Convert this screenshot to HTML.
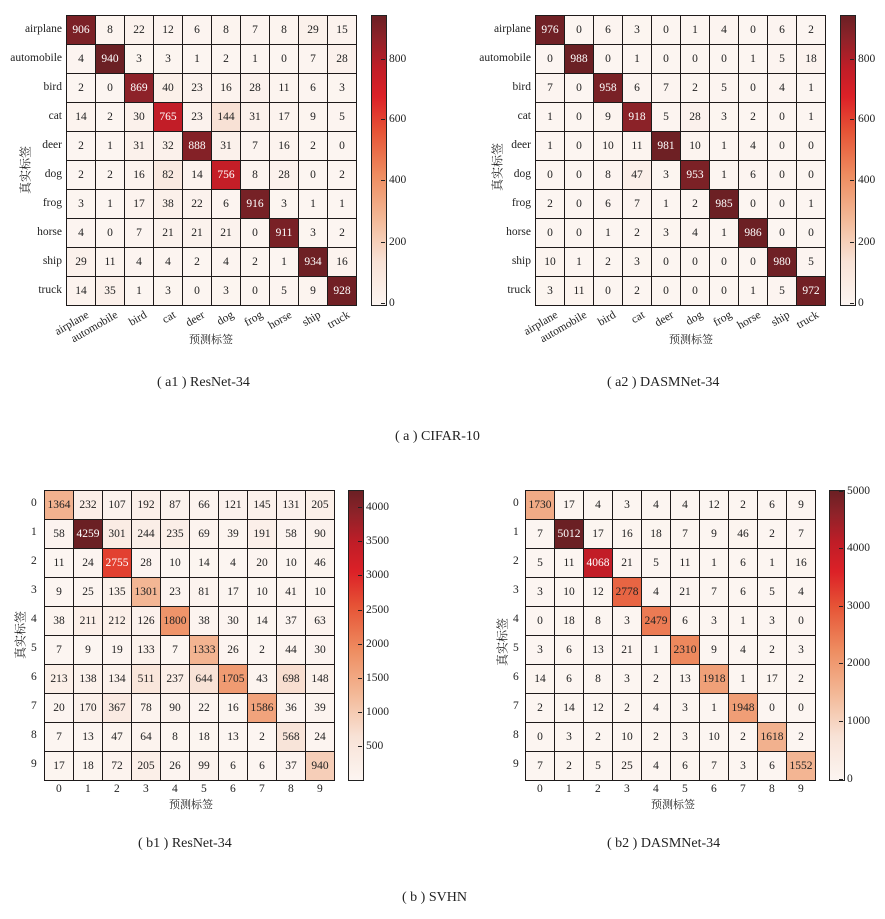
<!DOCTYPE html>
<html><head><meta charset="utf-8">
<style>
body{margin:0;width:885px;height:919px;background:#fff;position:relative;overflow:hidden;font-family:"Liberation Serif","Noto Serif CJK SC",serif;color:#222}
.m{position:absolute;width:289px;height:289px;background:#1e1a1a;padding:1px;display:grid;grid-template-columns:repeat(10,28px);grid-template-rows:repeat(10,28px);gap:1px}
.m i{font-style:normal;display:flex;align-items:center;justify-content:center;font-size:11.5px;background:#fcf5f1;color:#222}
.a{position:absolute;font-size:11.5px;white-space:nowrap}
.yl{position:absolute;font-size:11.5px;text-align:right;width:70px}
.cb{position:absolute;width:14px;height:289px;border:1px solid #222;background:linear-gradient(to top,#fcf5f1 0%,#f8e2d6 15%,#f3b896 30%,#ee8c60 45%,#e65436 60%,#dc2127 72%,#c01d27 82%,#8f2229 92%,#6b2024 100%)}
.t{position:absolute;font-size:11.5px;line-height:12px}
.t:before{content:"";position:absolute;left:-8px;top:6px;width:4px;height:1px;background:#222}
.rot{position:absolute;font-size:11.5px;transform-origin:100% 0;transform:rotate(-30deg);text-align:right;width:80px}
.vl{position:absolute;font-size:12px;white-space:nowrap;transform:translate(-50%,-50%) rotate(-90deg);font-family:"Noto Serif CJK SC",serif}
.xl{position:absolute;font-size:11px;font-family:"Noto Serif CJK SC",serif;transform:translateX(-50%)}
.cap{position:absolute;font-size:14px;white-space:nowrap}
</style></head><body>

<!-- a1 -->
<div class="m" id="m1" style="left:66px;top:15px">
<i>906</i><i>8</i><i>22</i><i>12</i><i>6</i><i>8</i><i>7</i><i>8</i><i>29</i><i>15</i>
<i>4</i><i>940</i><i>3</i><i>3</i><i>1</i><i>2</i><i>1</i><i>0</i><i>7</i><i>28</i>
<i>2</i><i>0</i><i>869</i><i>40</i><i>23</i><i>16</i><i>28</i><i>11</i><i>6</i><i>3</i>
<i>14</i><i>2</i><i>30</i><i>765</i><i>23</i><i>144</i><i>31</i><i>17</i><i>9</i><i>5</i>
<i>2</i><i>1</i><i>31</i><i>32</i><i>888</i><i>31</i><i>7</i><i>16</i><i>2</i><i>0</i>
<i>2</i><i>2</i><i>16</i><i>82</i><i>14</i><i>756</i><i>8</i><i>28</i><i>0</i><i>2</i>
<i>3</i><i>1</i><i>17</i><i>38</i><i>22</i><i>6</i><i>916</i><i>3</i><i>1</i><i>1</i>
<i>4</i><i>0</i><i>7</i><i>21</i><i>21</i><i>21</i><i>0</i><i>911</i><i>3</i><i>2</i>
<i>29</i><i>11</i><i>4</i><i>4</i><i>2</i><i>4</i><i>2</i><i>1</i><i>934</i><i>16</i>
<i>14</i><i>35</i><i>1</i><i>3</i><i>0</i><i>3</i><i>0</i><i>5</i><i>9</i><i>928</i>
</div>
<!-- a2 -->
<div class="m" id="m2" style="left:535px;top:15px">
<i>976</i><i>0</i><i>6</i><i>3</i><i>0</i><i>1</i><i>4</i><i>0</i><i>6</i><i>2</i>
<i>0</i><i>988</i><i>0</i><i>1</i><i>0</i><i>0</i><i>0</i><i>1</i><i>5</i><i>18</i>
<i>7</i><i>0</i><i>958</i><i>6</i><i>7</i><i>2</i><i>5</i><i>0</i><i>4</i><i>1</i>
<i>1</i><i>0</i><i>9</i><i>918</i><i>5</i><i>28</i><i>3</i><i>2</i><i>0</i><i>1</i>
<i>1</i><i>0</i><i>10</i><i>11</i><i>981</i><i>10</i><i>1</i><i>4</i><i>0</i><i>0</i>
<i>0</i><i>0</i><i>8</i><i>47</i><i>3</i><i>953</i><i>1</i><i>6</i><i>0</i><i>0</i>
<i>2</i><i>0</i><i>6</i><i>7</i><i>1</i><i>2</i><i>985</i><i>0</i><i>0</i><i>1</i>
<i>0</i><i>0</i><i>1</i><i>2</i><i>3</i><i>4</i><i>1</i><i>986</i><i>0</i><i>0</i>
<i>10</i><i>1</i><i>2</i><i>3</i><i>0</i><i>0</i><i>0</i><i>0</i><i>980</i><i>5</i>
<i>3</i><i>11</i><i>0</i><i>2</i><i>0</i><i>0</i><i>0</i><i>1</i><i>5</i><i>972</i>
</div>
<!-- b1 -->
<div class="m" id="m3" style="left:44px;top:490px">
<i>1364</i><i>232</i><i>107</i><i>192</i><i>87</i><i>66</i><i>121</i><i>145</i><i>131</i><i>205</i>
<i>58</i><i>4259</i><i>301</i><i>244</i><i>235</i><i>69</i><i>39</i><i>191</i><i>58</i><i>90</i>
<i>11</i><i>24</i><i>2755</i><i>28</i><i>10</i><i>14</i><i>4</i><i>20</i><i>10</i><i>46</i>
<i>9</i><i>25</i><i>135</i><i>1301</i><i>23</i><i>81</i><i>17</i><i>10</i><i>41</i><i>10</i>
<i>38</i><i>211</i><i>212</i><i>126</i><i>1800</i><i>38</i><i>30</i><i>14</i><i>37</i><i>63</i>
<i>7</i><i>9</i><i>19</i><i>133</i><i>7</i><i>1333</i><i>26</i><i>2</i><i>44</i><i>30</i>
<i>213</i><i>138</i><i>134</i><i>511</i><i>237</i><i>644</i><i>1705</i><i>43</i><i>698</i><i>148</i>
<i>20</i><i>170</i><i>367</i><i>78</i><i>90</i><i>22</i><i>16</i><i>1586</i><i>36</i><i>39</i>
<i>7</i><i>13</i><i>47</i><i>64</i><i>8</i><i>18</i><i>13</i><i>2</i><i>568</i><i>24</i>
<i>17</i><i>18</i><i>72</i><i>205</i><i>26</i><i>99</i><i>6</i><i>6</i><i>37</i><i>940</i>
</div>
<!-- b2 -->
<div class="m" id="m4" style="left:525px;top:490px">
<i>1730</i><i>17</i><i>4</i><i>3</i><i>4</i><i>4</i><i>12</i><i>2</i><i>6</i><i>9</i>
<i>7</i><i>5012</i><i>17</i><i>16</i><i>18</i><i>7</i><i>9</i><i>46</i><i>2</i><i>7</i>
<i>5</i><i>11</i><i>4068</i><i>21</i><i>5</i><i>11</i><i>1</i><i>6</i><i>1</i><i>16</i>
<i>3</i><i>10</i><i>12</i><i>2778</i><i>4</i><i>21</i><i>7</i><i>6</i><i>5</i><i>4</i>
<i>0</i><i>18</i><i>8</i><i>3</i><i>2479</i><i>6</i><i>3</i><i>1</i><i>3</i><i>0</i>
<i>3</i><i>6</i><i>13</i><i>21</i><i>1</i><i>2310</i><i>9</i><i>4</i><i>2</i><i>3</i>
<i>14</i><i>6</i><i>8</i><i>3</i><i>2</i><i>13</i><i>1918</i><i>1</i><i>17</i><i>2</i>
<i>2</i><i>14</i><i>12</i><i>2</i><i>4</i><i>3</i><i>1</i><i>1948</i><i>0</i><i>0</i>
<i>0</i><i>3</i><i>2</i><i>10</i><i>2</i><i>3</i><i>10</i><i>2</i><i>1618</i><i>2</i>
<i>7</i><i>2</i><i>5</i><i>25</i><i>4</i><i>6</i><i>7</i><i>3</i><i>6</i><i>1552</i>
</div>

<!-- a1 y labels -->
<div class="yl" style="left:-8px;top:23px">airplane</div>
<div class="yl" style="left:-8px;top:52px">automobile</div>
<div class="yl" style="left:-8px;top:81px">bird</div>
<div class="yl" style="left:-8px;top:110px">cat</div>
<div class="yl" style="left:-8px;top:139px">deer</div>
<div class="yl" style="left:-8px;top:168px">dog</div>
<div class="yl" style="left:-8px;top:197px">frog</div>
<div class="yl" style="left:-8px;top:226px">horse</div>
<div class="yl" style="left:-8px;top:255px">ship</div>
<div class="yl" style="left:-8px;top:284px">truck</div>
<!-- a2 y labels -->
<div class="yl" style="left:461px;top:23px">airplane</div>
<div class="yl" style="left:461px;top:52px">automobile</div>
<div class="yl" style="left:461px;top:81px">bird</div>
<div class="yl" style="left:461px;top:110px">cat</div>
<div class="yl" style="left:461px;top:139px">deer</div>
<div class="yl" style="left:461px;top:168px">dog</div>
<div class="yl" style="left:461px;top:197px">frog</div>
<div class="yl" style="left:461px;top:226px">horse</div>
<div class="yl" style="left:461px;top:255px">ship</div>
<div class="yl" style="left:461px;top:284px">truck</div>

<!-- a1 x labels -->
<div class="rot" style="left:5px;top:309px">airplane</div>
<div class="rot" style="left:34px;top:309px">automobile</div>
<div class="rot" style="left:63px;top:309px">bird</div>
<div class="rot" style="left:92px;top:309px">cat</div>
<div class="rot" style="left:121px;top:309px">deer</div>
<div class="rot" style="left:150px;top:309px">dog</div>
<div class="rot" style="left:179px;top:309px">frog</div>
<div class="rot" style="left:208px;top:309px">horse</div>
<div class="rot" style="left:237px;top:309px">ship</div>
<div class="rot" style="left:266px;top:309px">truck</div>
<!-- a2 x labels -->
<div class="rot" style="left:474px;top:309px">airplane</div>
<div class="rot" style="left:503px;top:309px">automobile</div>
<div class="rot" style="left:532px;top:309px">bird</div>
<div class="rot" style="left:561px;top:309px">cat</div>
<div class="rot" style="left:590px;top:309px">deer</div>
<div class="rot" style="left:619px;top:309px">dog</div>
<div class="rot" style="left:648px;top:309px">frog</div>
<div class="rot" style="left:677px;top:309px">horse</div>
<div class="rot" style="left:706px;top:309px">ship</div>
<div class="rot" style="left:735px;top:309px">truck</div>

<!-- b1 y/x ticks -->
<div class="a" style="left:31px;top:497px">0</div><div class="a" style="left:31px;top:526px">1</div><div class="a" style="left:31px;top:555px">2</div><div class="a" style="left:31px;top:584px">3</div><div class="a" style="left:31px;top:613px">4</div><div class="a" style="left:31px;top:642px">5</div><div class="a" style="left:31px;top:671px">6</div><div class="a" style="left:31px;top:700px">7</div><div class="a" style="left:31px;top:729px">8</div><div class="a" style="left:31px;top:758px">9</div>
<div class="a" style="left:56px;top:783px">0</div><div class="a" style="left:85px;top:783px">1</div><div class="a" style="left:114px;top:783px">2</div><div class="a" style="left:143px;top:783px">3</div><div class="a" style="left:172px;top:783px">4</div><div class="a" style="left:201px;top:783px">5</div><div class="a" style="left:230px;top:783px">6</div><div class="a" style="left:259px;top:783px">7</div><div class="a" style="left:288px;top:783px">8</div><div class="a" style="left:317px;top:783px">9</div>
<!-- b2 ticks -->
<div class="a" style="left:513px;top:497px">0</div><div class="a" style="left:513px;top:526px">1</div><div class="a" style="left:513px;top:555px">2</div><div class="a" style="left:513px;top:584px">3</div><div class="a" style="left:513px;top:613px">4</div><div class="a" style="left:513px;top:642px">5</div><div class="a" style="left:513px;top:671px">6</div><div class="a" style="left:513px;top:700px">7</div><div class="a" style="left:513px;top:729px">8</div><div class="a" style="left:513px;top:758px">9</div>
<div class="a" style="left:537px;top:783px">0</div><div class="a" style="left:566px;top:783px">1</div><div class="a" style="left:595px;top:783px">2</div><div class="a" style="left:624px;top:783px">3</div><div class="a" style="left:653px;top:783px">4</div><div class="a" style="left:682px;top:783px">5</div><div class="a" style="left:711px;top:783px">6</div><div class="a" style="left:740px;top:783px">7</div><div class="a" style="left:769px;top:783px">8</div><div class="a" style="left:798px;top:783px">9</div>

<!-- axis titles -->
<div class="vl" style="left:25px;top:170px">真实标签</div>
<div class="vl" style="left:497px;top:167px">真实标签</div>
<div class="vl" style="left:20px;top:635px">真实标签</div>
<div class="vl" style="left:502px;top:642px">真实标签</div>
<div class="xl" style="left:211px;top:331px">预测标签</div>
<div class="xl" style="left:691px;top:331px">预测标签</div>
<div class="xl" style="left:191px;top:796px">预测标签</div>
<div class="xl" style="left:673px;top:796px">预测标签</div>

<!-- colorbars -->
<div class="cb" style="left:371px;top:15px"></div>
<div class="t" style="left:389px;top:297px">0</div><div class="t" style="left:389px;top:236px">200</div><div class="t" style="left:389px;top:174px">400</div><div class="t" style="left:389px;top:113px">600</div><div class="t" style="left:389px;top:53px">800</div>
<div class="cb" style="left:840px;top:15px"></div>
<div class="t" style="left:858px;top:297px">0</div><div class="t" style="left:858px;top:236px">200</div><div class="t" style="left:858px;top:174px">400</div><div class="t" style="left:858px;top:113px">600</div><div class="t" style="left:858px;top:53px">800</div>
<div class="cb" style="left:348px;top:490px"></div>
<div class="t" style="left:366px;top:740px">500</div><div class="t" style="left:366px;top:706px">1000</div><div class="t" style="left:366px;top:672px">1500</div><div class="t" style="left:366px;top:638px">2000</div><div class="t" style="left:366px;top:604px">2500</div><div class="t" style="left:366px;top:569px">3000</div><div class="t" style="left:366px;top:535px">3500</div><div class="t" style="left:366px;top:501px">4000</div>
<div class="cb" style="left:829px;top:490px"></div>
<div class="t" style="left:847px;top:773px">0</div><div class="t" style="left:847px;top:715px">1000</div><div class="t" style="left:847px;top:657px">2000</div><div class="t" style="left:847px;top:600px">3000</div><div class="t" style="left:847px;top:542px">4000</div><div class="t" style="left:847px;top:485px">5000</div>

<!-- captions -->
<div class="cap" style="left:157px;top:375px">( a1 ) ResNet-34</div>
<div class="cap" style="left:607px;top:375px">( a2 ) DASMNet-34</div>
<div class="cap" style="left:395px;top:429px">( a ) CIFAR-10</div>
<div class="cap" style="left:138px;top:836px">( b1 ) ResNet-34</div>
<div class="cap" style="left:607px;top:836px">( b2 ) DASMNet-34</div>
<div class="cap" style="left:402px;top:890px">( b ) SVHN</div>

<script>
var st=[[0,[252,245,241]],[.15,[248,226,214]],[.3,[243,184,150]],[.45,[238,140,96]],[.6,[230,84,54]],[.72,[220,33,39]],[.82,[192,29,39]],[.92,[143,34,41]],[1,[107,32,36]]];
function col(t){t=Math.max(0,Math.min(1,t));for(var i=1;i<st.length;i++){if(t<=st[i][0]){var a=st[i-1],b=st[i],f=(t-a[0])/(b[0]-a[0]);return'rgb('+[0,1,2].map(function(k){return Math.round(a[1][k]+f*(b[1][k]-a[1][k]))}).join(',')+')';}}return'rgb(107,32,36)';}
[['m1',0,940],['m2',0,988],['m3',2,4259],['m4',0,5012]].forEach(function(p){
var cs=document.getElementById(p[0]).children;
for(var i=0;i<cs.length;i++){var v=+cs[i].textContent,t=(v-p[1])/(p[2]-p[1]);cs[i].style.background=col(t);if(t>0.6)cs[i].style.color='#fff';}
});
</script>
</body></html>
